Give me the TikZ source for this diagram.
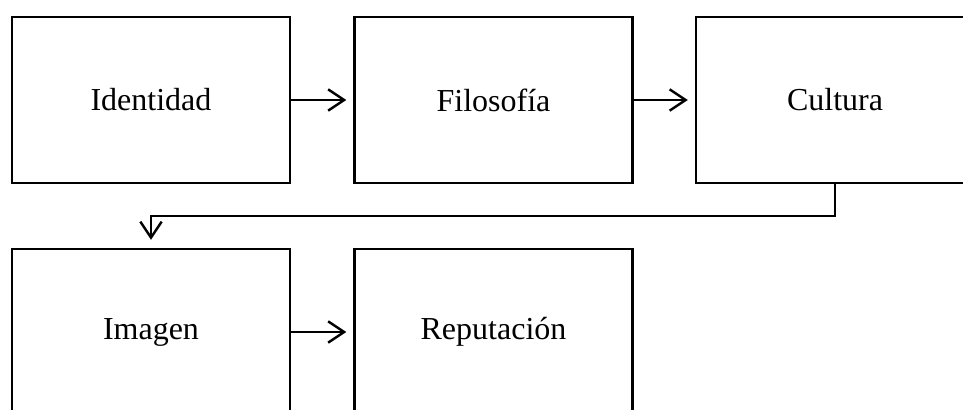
\documentclass[tikz,border=0pt]{standalone}
\usepackage{fontspec}
\setmainfont{Liberation Serif}
\usetikzlibrary{arrows.meta}
\tikzset{
  box/.style={draw, line width=1.8pt, minimum width=208.5pt, minimum height=124.5pt, inner sep=0pt},
  arr/.style={line width=1.8pt, -{Straight Barb[length=12pt, width=16pt, line width=1.8pt]}},
}
\begin{document}
\begin{tikzpicture}[x=0.75pt, y=-0.75pt, font=\fontsize{24}{28}\selectfont]
\clip (0,0) rectangle (963,410);
\useasboundingbox (0,0) rectangle (963,410);
\node[box] (identidad) at (151,100) {Identidad};
\node[box] (filosofia) at (493.5,100) {Filosofía};
\node[box] (cultura) at (835,100) {Cultura};
\draw[arr, shorten >=5.25pt] (identidad) -- (filosofia);
\draw[arr, shorten >=5.25pt] (filosofia) -- (cultura);
\node[box] (imagen) at (151,332) {Imagen};
\node[box] (reputacion) at (493.5,332) {Reputación};
\draw[arr, shorten >=5.25pt] (imagen) -- (reputacion);
\draw[arr, shorten >=6pt] (cultura.south) -- ++(0,32) -| (imagen.north);
\end{tikzpicture}
\end{document}
